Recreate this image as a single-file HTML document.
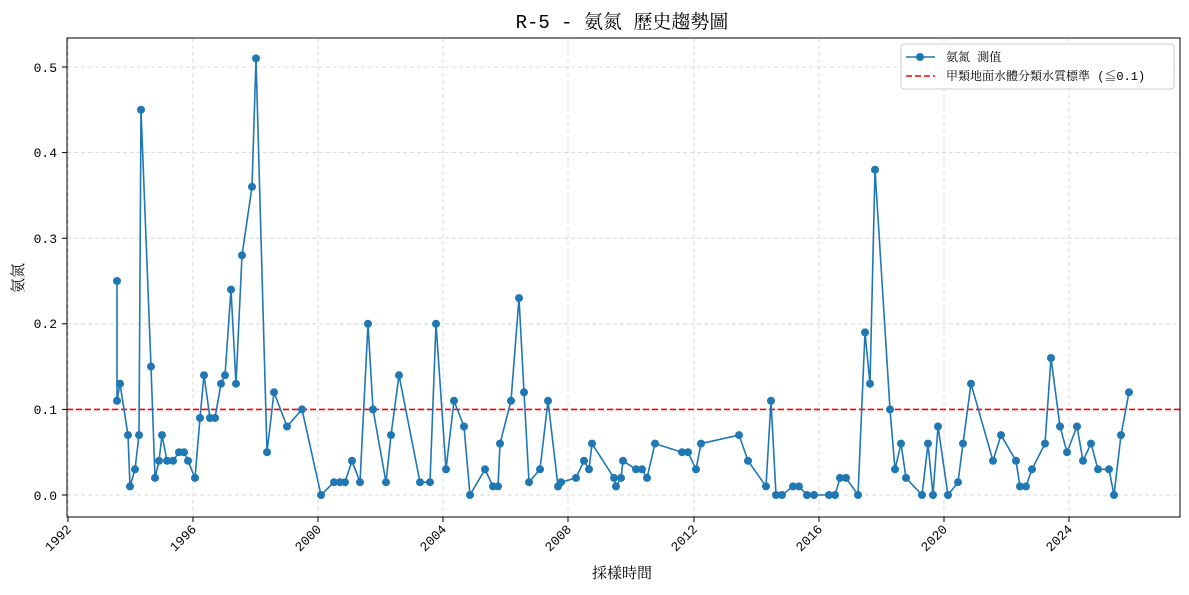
<!DOCTYPE html>
<html><head><meta charset="utf-8"><style>
html,body{margin:0;padding:0;background:#fff}
svg text{font-family:"Liberation Mono","Noto Serif CJK SC","Noto Serif CJK TC",serif;fill:#000}
</style></head><body>
<svg width="1189" height="590" xmlns="http://www.w3.org/2000/svg">
<defs><marker id="m" markerWidth="10" markerHeight="10" refX="5" refY="5" markerUnits="userSpaceOnUse"><circle cx="5" cy="5" r="4" fill="#1f77b4"/></marker></defs>
<text x="622" y="28" font-size="19" text-anchor="middle">R-5 - 氨氮 歷史趨勢圖</text>
<g stroke="#d0d0d0" stroke-dasharray="4,3" stroke-width="0.8">
<line x1="67" x2="1180" y1="495" y2="495"/><line x1="67" x2="1180" y1="409.4" y2="409.4"/><line x1="67" x2="1180" y1="323.8" y2="323.8"/><line x1="67" x2="1180" y1="238.2" y2="238.2"/><line x1="67" x2="1180" y1="152.6" y2="152.6"/><line x1="67" x2="1180" y1="67" y2="67"/>
<line y1="38" y2="517" x1="68" x2="68"/><line y1="38" y2="517" x1="193" x2="193"/><line y1="38" y2="517" x1="318" x2="318"/><line y1="38" y2="517" x1="443" x2="443"/><line y1="38" y2="517" x1="568" x2="568"/><line y1="38" y2="517" x1="694" x2="694"/><line y1="38" y2="517" x1="819" x2="819"/><line y1="38" y2="517" x1="944" x2="944"/><line y1="38" y2="517" x1="1069" x2="1069"/>
</g>
<line x1="67" x2="1180" y1="409.4" y2="409.4" stroke="#f00" stroke-width="1.6" stroke-dasharray="6,3"/>
<polyline fill="none" stroke="#1f77b4" stroke-width="1.6" marker-start="url(#m)" marker-mid="url(#m)" marker-end="url(#m)" points="117,281 117,400.8 120,383.7 128,435.1 130,486.4 135,469.3 139,435.1 141,109.8 151,366.6 155,477.9 159,460.8 162,435.1 167,460.8 173,460.8 179,452.2 184,452.2 188,460.8 195,477.9 200,418 204,375.2 210,418 215,418 221,383.7 225,375.2 231,289.6 236,383.7 242,255.3 252,186.8 256,58.4 267,452.2 274,392.3 287,426.5 302,409.4 321,495 334,482.2 340,482.2 345,482.2 352,460.8 360,482.2 368,323.8 373,409.4 386,482.2 391,435.1 399,375.2 420,482.2 430,482.2 436,323.8 446,469.3 454,400.8 464,426.5 470,495 485,469.3 493,486.4 498,486.4 500,443.6 511,400.8 519,298.1 524,392.3 529,482.2 540,469.3 548,400.8 558,486.4 561,482.2 576,477.9 584,460.8 589,469.3 592,443.6 614,477.9 616,486.4 621,477.9 623,460.8 636,469.3 642,469.3 647,477.9 655,443.6 682,452.2 688,452.2 696,469.3 701,443.6 739,435.1 748,460.8 766,486.4 771,400.8 776,495 782,495 793,486.4 799,486.4 807,495 814,495 829,495 835,495 840,477.9 846,477.9 858,495 865,332.4 870,383.7 875,169.7 890,409.4 895,469.3 901,443.6 906,477.9 922,495 928,443.6 933,495 938,426.5 948,495 958,482.2 963,443.6 971,383.7 993,460.8 1001,435.1 1016,460.8 1020,486.4 1026,486.4 1032,469.3 1045,443.6 1051,358 1060,426.5 1067,452.2 1077,426.5 1083,460.8 1091,443.6 1098,469.3 1109,469.3 1114,495 1121,435.1 1129,392.3"/>
<rect x="67" y="38" width="1113" height="479" fill="none" stroke="#000" stroke-width="1"/>
<g font-size="13" text-anchor="end">
<text x="57" y="500">0.0</text><text x="57" y="414">0.1</text><text x="57" y="328">0.2</text><text x="57" y="243">0.3</text><text x="57" y="157">0.4</text><text x="57" y="72">0.5</text>
</g>
<g stroke="#000"><line x1="62" x2="67" y1="495" y2="495"/><line x1="62" x2="67" y1="409.4" y2="409.4"/><line x1="62" x2="67" y1="323.8" y2="323.8"/><line x1="62" x2="67" y1="238.2" y2="238.2"/><line x1="62" x2="67" y1="152.6" y2="152.6"/><line x1="62" x2="67" y1="67" y2="67"/>
<line y1="517" y2="522" x1="68" x2="68"/><line y1="517" y2="522" x1="193" x2="193"/><line y1="517" y2="522" x1="318" x2="318"/><line y1="517" y2="522" x1="443" x2="443"/><line y1="517" y2="522" x1="568" x2="568"/><line y1="517" y2="522" x1="694" x2="694"/><line y1="517" y2="522" x1="819" x2="819"/><line y1="517" y2="522" x1="944" x2="944"/><line y1="517" y2="522" x1="1069" x2="1069"/></g>
<g font-size="13" text-anchor="end">
<text transform="translate(72,530) rotate(-45)">1992</text><text transform="translate(197,530) rotate(-45)">1996</text><text transform="translate(322,530) rotate(-45)">2000</text><text transform="translate(447,530) rotate(-45)">2004</text><text transform="translate(572,530) rotate(-45)">2008</text><text transform="translate(698,530) rotate(-45)">2012</text><text transform="translate(823,530) rotate(-45)">2016</text><text transform="translate(948,530) rotate(-45)">2020</text><text transform="translate(1073,530) rotate(-45)">2024</text>
</g>
<text x="622" y="578" font-size="15" text-anchor="middle">採樣時間</text>
<text transform="translate(23,278) rotate(-90)" font-size="15" text-anchor="middle">氨氮</text>
<rect x="901" y="44" width="273" height="45" rx="3" fill="#fff" stroke="#ccc"/>
<line x1="906" x2="935" y1="57" y2="57" stroke="#1f77b4" stroke-width="1.6"/><circle cx="920" cy="57" r="4" fill="#1f77b4"/>
<text x="946" y="61" font-size="12">氨氮 測值</text>
<line x1="906" x2="935" y1="76" y2="76" stroke="#f00" stroke-width="1.6" stroke-dasharray="6,3"/>
<text x="946" y="80" font-size="12">甲類地面水體分類水質標準 (≦0.1)</text>
</svg>
</body></html>
